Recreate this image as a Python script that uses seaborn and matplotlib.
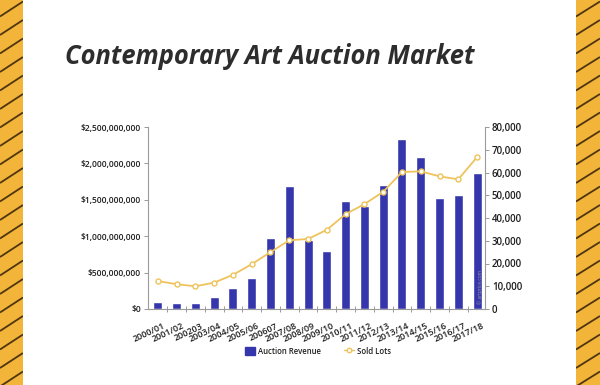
import numpy as np
import pandas as pd
import seaborn as sns
import matplotlib
matplotlib.use("Agg")
import matplotlib.pyplot as plt
import matplotlib.transforms as mtrans
from matplotlib import font_manager as fm
from matplotlib.patches import Patch
from matplotlib.lines import Line2D
from matplotlib.ticker import FuncFormatter, MultipleLocator, FixedLocator

seasons = ["2000/01", "2001/02", "200203", "2003/04", "2004/05", "2005/06", "200607",
           "2007/08", "2008/09", "2009/10", "2010/11", "2011/12", "2012/13", "2013/14",
           "2014/15", "2015/16", "2016/17", "2017/18"]
revenue = [95e6, 80e6, 80e6, 160e6, 290e6, 420e6, 980e6, 1690e6, 945e6, 790e6,
           1490e6, 1410e6, 1705e6, 2330e6, 2085e6, 1520e6, 1565e6, 1870e6]
sold_lots = [12300, 10900, 10000, 11600, 15000, 19700, 25000, 30200, 30800, 34800,
             41700, 46100, 51500, 60200, 60500, 58300, 57000, 66800]

title = "Contemporary Art Auction Market"
BAR = "#3636AC"
GOLD = "#EEC35C"
YEL = "#F2B53A"

sns.set_theme(style="white")
plt.rcParams["font.family"] = ["Open Sans", "DejaVu Sans"]


def fp(fname_part, size, fallback_weight="bold", fallback_style="normal"):
    for f in fm.fontManager.ttflist:
        if f.fname.split("/")[-1] == fname_part:
            return fm.FontProperties(fname=f.fname, size=size)
    return fm.FontProperties(family=["Open Sans", "DejaVu Sans"], weight=fallback_weight,
                             style=fallback_style, size=size)


fig = plt.figure(figsize=(6, 3.85), dpi=100)
fig.patch.set_facecolor("white")

# side stripes
for x0, w in [(0, 23), (576, 24)]:
    sax = fig.add_axes([x0 / 600, 0, w / 600, 1])
    sax.set_xlim(0, w)
    sax.set_ylim(0, 385)
    sax.add_patch(plt.Rectangle((0, 0), w, 385, color=YEL, zorder=0))
    for h in np.arange(-20, 400, 18.5):
        sax.plot([0, w], [h, h + 15], color="#4f3510", lw=1.3, solid_capstyle="butt")
    sax.set_axis_off()

fig.text(65 / 600, 1 - 56 / 385, title, color="#2d2d2d", va="center", ha="left",
         fontproperties=fp("OpenSans-BoldItalic.ttf", 18.4, "bold", "italic"))

df = pd.DataFrame({"season": seasons, "revenue": revenue, "lots": sold_lots})

ax = fig.add_axes([148 / 600, 76 / 385, 337 / 600, 182 / 385])
sns.barplot(data=df, x="season", y="revenue", color=BAR, width=0.48, saturation=1, ax=ax)
ax.set_xlim(-0.52, 17.42)
ax.set_ylim(0, 2.5e9)
ax.yaxis.set_major_locator(MultipleLocator(5e8))
ax.yaxis.set_major_formatter(FuncFormatter(lambda v, p: f"${v:,.0f}"))
ax.set_xlabel("")
ax.set_ylabel("")

ax2 = ax.twinx()
sns.lineplot(x=np.arange(len(seasons)), y=sold_lots, ax=ax2, color=GOLD, lw=1.3,
             marker="o", markersize=3.6, markerfacecolor="white", markeredgecolor=GOLD,
             markeredgewidth=1.0)
ax2.set_ylim(0, 80000)
ax2.yaxis.set_major_locator(MultipleLocator(10000))
ax2.yaxis.set_major_formatter(FuncFormatter(lambda v, p: f"{v:,.0f}"))
ax2.set_xlim(-0.52, 17.42)

for a in (ax, ax2):
    a.set_facecolor("none")
    a.spines["top"].set_visible(False)
    for s in ["left", "right", "bottom"]:
        a.spines[s].set_color("#9a9a9a")
        a.spines[s].set_linewidth(0.8)

ax.spines["right"].set_visible(False)
ax2.spines["left"].set_visible(False)
ax2.spines["bottom"].set_visible(False)

ax.tick_params(axis="y", which="major", left=True, length=3, width=0.7, color="#9a9a9a",
               pad=2, labelcolor="#1e1e1e")
ax2.tick_params(axis="y", which="major", right=True, length=3, width=0.7, color="#9a9a9a",
                pad=2, labelcolor="#1e1e1e")
left_fp = fp("OpenSans-Semibold.ttf", 6.1, "semibold")
right_fp = fp("OpenSans-Semibold.ttf", 7.0, "semibold")
for lab in ax.get_yticklabels():
    lab.set_fontproperties(left_fp)
for lab in ax2.get_yticklabels():
    lab.set_fontproperties(right_fp)

ax.set_xticks(range(len(seasons)))
ax.set_xticklabels(seasons, rotation=25, ha="right", rotation_mode="anchor",
                   color="#1e1e1e")
ax.tick_params(axis="x", which="major", bottom=False, pad=3)
x_fp = fp("OpenSans-Semibold.ttf", 6.5, "semibold")
offset = mtrans.ScaledTranslation(5 / 100, 0, fig.dpi_scale_trans)
for lab in ax.get_xticklabels():
    lab.set_fontproperties(x_fp)
    lab.set_transform(lab.get_transform() + offset)
ax.xaxis.set_minor_locator(FixedLocator(np.arange(0.5, len(seasons) - 1, 1.0)))
ax.tick_params(axis="x", which="minor", bottom=True, direction="inout", length=4,
               width=0.7, color="#9a9a9a")

ax2.text(0.985, 0.12, "© artprice.com", transform=ax2.transAxes, rotation=90,
         fontsize=3.5, color="#9a9a9a", ha="center", va="center")

handles = [Patch(facecolor=BAR, edgecolor=BAR),
           Line2D([0], [0], color=GOLD, lw=1.0, marker="o", markersize=3.2,
                  markerfacecolor="white", markeredgecolor=GOLD)]
leg = fig.legend(handles, ["Auction Revenue", "Sold Lots"], loc="center",
                 bbox_to_anchor=(318 / 600, 1 - 351 / 385), ncol=2, frameon=False,
                 prop=fp("OpenSans-Semibold.ttf", 5.6, "semibold"),
                 handlelength=1.3, handleheight=1.1, columnspacing=3.0,
                 handletextpad=0.4)
for t in leg.get_texts():
    t.set_color("#1e1e1e")

fig.savefig("out.png", dpi=100, facecolor="white")
